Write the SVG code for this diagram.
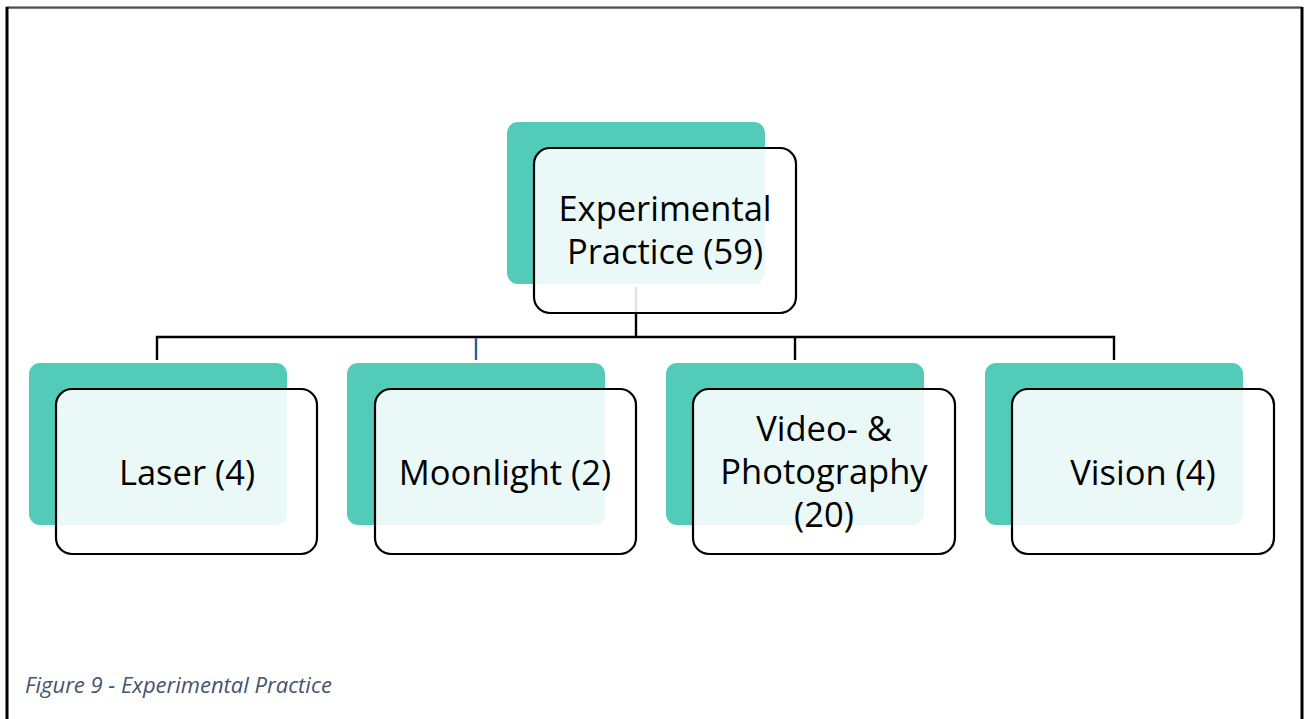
<svg xmlns="http://www.w3.org/2000/svg" width="1304" height="719" viewBox="0 0 1304 719">
  <style>
    .back { fill: #53cbb9; }
    .front { fill: #ffffff; fill-opacity: 0.88; stroke: #000000; stroke-width: 2.2; }
    .label { font-family: "Open Sans", "Noto Sans", sans-serif; font-size: 34.5px; fill: #000000; text-anchor: middle; }
    .link { stroke: #000000; stroke-width: 2.4; fill: none; }
    .caption { font-family: "Open Sans", "Noto Sans", sans-serif; font-size: 22px; font-style: italic; fill: #44546a; }
  </style>
  <rect x="0" y="0" width="1304" height="719" fill="#ffffff"/>
  <!-- frame: top, left and right edges -->
  <g id="frame">
    <line x1="6" y1="7" x2="1302" y2="7" stroke="#9a9a9a" stroke-width="2"/>
    <line x1="6" y1="8" x2="1302" y2="8" stroke="#000000" stroke-width="1"/>
    <line x1="7" y1="7" x2="7" y2="719" stroke="#000000" stroke-width="3"/>
    <line x1="1302" y1="7" x2="1302" y2="719" stroke="#000000" stroke-width="3"/>
  </g>

  <g id="node-root">
    <rect class="back" x="507" y="122" width="258" height="162" rx="11"/>
    <rect class="front" x="534" y="148" width="262" height="165" rx="16"/>
    <text class="label" x="665" y="221">Experimental</text>
    <text class="label" x="665" y="264">Practice (59)</text>
  </g>

  <g id="node-laser">
    <rect class="back" x="29" y="363" width="258" height="162" rx="11"/>
    <rect class="front" x="56" y="389" width="261" height="165" rx="16"/>
    <text class="label" x="187" y="485">Laser (4)</text>
  </g>

  <g id="node-moonlight">
    <rect class="back" x="347" y="363" width="258" height="162" rx="11"/>
    <rect class="front" x="375" y="389" width="261" height="165" rx="16"/>
    <text class="label" x="505" y="485">Moonlight (2)</text>
  </g>

  <g id="node-video">
    <rect class="back" x="666" y="363" width="258" height="162" rx="11"/>
    <rect class="front" x="693" y="389" width="262" height="165" rx="16"/>
    <text class="label" x="824" y="441">Video- &amp;</text>
    <text class="label" x="824" y="484">Photography</text>
    <text class="label" x="824" y="527">(20)</text>
  </g>

  <g id="node-vision">
    <rect class="back" x="985" y="363" width="258" height="162" rx="11"/>
    <rect class="front" x="1012" y="389" width="262" height="165" rx="16"/>
    <text class="label" x="1143" y="485">Vision (4)</text>
  </g>

  <g id="connectors">
    <line x1="636" y1="287" x2="636" y2="312" stroke="#e2e2e2" stroke-width="2.4"/>
    <line class="link" x1="636" y1="314" x2="636" y2="337"/>
    <polyline class="link" points="157,360 157,337 1114,337 1114,360"/>
    <line x1="476" y1="338" x2="476" y2="360" stroke="#3a5a9a" stroke-width="2.4"/>
    <line class="link" x1="795" y1="337" x2="795" y2="360"/>
  </g>

  <text class="caption" x="25" y="693">Figure 9 - Experimental Practice</text>
</svg>
